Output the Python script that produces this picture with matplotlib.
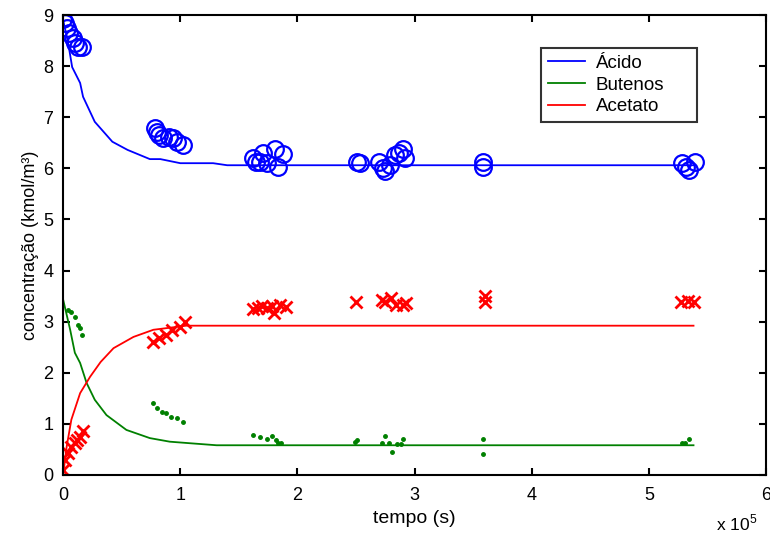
import matplotlib
matplotlib.use("Agg")
import matplotlib.pyplot as plt
import numpy as np

plt.rcParams['font.family'] = ['Liberation Sans', 'DejaVu Sans']
plt.rcParams['mathtext.fontset'] = 'custom'
plt.rcParams['mathtext.rm'] = 'Liberation Sans'

# model curves (tempo in units of 1e5 s)
t_acido = [0, 0.043, 0.077, 0.145, 0.17, 0.27, 0.42, 0.55, 0.74, 0.83, 1.0, 1.28, 1.4, 5.38]
c_acido = [8.9, 8.45, 7.98, 7.67, 7.40, 6.91, 6.52, 6.36, 6.18, 6.18, 6.1, 6.1, 6.06, 6.06]

t_butenos = [0, 0.06, 0.10, 0.145, 0.2, 0.27, 0.37, 0.54, 0.74, 0.91, 1.08, 1.31, 5.38]
c_butenos = [3.43, 2.84, 2.39, 2.19, 1.8, 1.47, 1.17, 0.88, 0.72, 0.65, 0.62, 0.58, 0.58]

t_acetato = [0, 0.03, 0.07, 0.145, 0.23, 0.32, 0.43, 0.6, 0.77, 1.05, 5.38]
c_acetato = [0.0, 0.55, 1.08, 1.6, 1.92, 2.21, 2.48, 2.70, 2.84, 2.92, 2.92]

# experimental points
te_acido = [0.0, 0.02, 0.03, 0.05, 0.08, 0.1, 0.13, 0.16,
            0.78, 0.8, 0.82, 0.85, 0.9, 0.94, 0.97, 1.02,
            1.62, 1.65, 1.68, 1.71, 1.74, 1.81, 1.83, 1.88,
            2.51, 2.53,
            2.7, 2.73, 2.75, 2.79, 2.83, 2.87, 2.9, 2.92,
            3.58, 3.58,
            5.28, 5.32, 5.34, 5.39]
ce_acido = [8.92, 8.84, 8.75, 8.65, 8.55, 8.45, 8.38, 8.38,
            6.79, 6.71, 6.65, 6.59, 6.62, 6.59, 6.52, 6.46,
            6.2, 6.13, 6.13, 6.3, 6.1, 6.38, 6.03, 6.28,
            6.12, 6.1,
            6.13, 6.0, 5.95, 6.07, 6.26, 6.3, 6.38, 6.2,
            6.13, 6.03,
            6.1, 6.03, 5.97, 6.13]

te_acetato = [0.0, 0.02, 0.04, 0.07, 0.1, 0.12, 0.145, 0.17,
              0.77, 0.82, 0.88, 0.93, 1.0, 1.04,
              1.62, 1.66, 1.7, 1.74, 1.78, 1.8, 1.85, 1.9,
              2.5,
              2.72, 2.75, 2.8, 2.84, 2.9, 2.93,
              3.6, 3.6,
              5.27, 5.33, 5.38]
ce_acetato = [0.1, 0.3, 0.43, 0.55, 0.62, 0.68, 0.75, 0.85,
              2.6, 2.68, 2.74, 2.84, 2.9, 2.99,
              3.25, 3.27, 3.3, 3.27, 3.3, 3.17, 3.32, 3.28,
              3.38,
              3.42, 3.38, 3.46, 3.33, 3.33, 3.36,
              3.5, 3.38,
              3.38, 3.4, 3.38]

te_butenos = [0.04, 0.07, 0.1, 0.13, 0.145, 0.16,
              0.77, 0.8, 0.84, 0.88, 0.92, 0.97, 1.02,
              1.62, 1.68, 1.74, 1.78, 1.82, 1.83, 1.86,
              2.49, 2.51,
              2.72, 2.75, 2.78, 2.81, 2.85, 2.88, 2.9,
              3.58, 3.58,
              5.28, 5.31, 5.34]
ce_butenos = [3.23, 3.19, 3.09, 2.93, 2.87, 2.74,
              1.41, 1.31, 1.23, 1.21, 1.14, 1.12, 1.04,
              0.78, 0.74, 0.70, 0.76, 0.68, 0.63, 0.63,
              0.65, 0.68,
              0.63, 0.76, 0.63, 0.45, 0.61, 0.61, 0.70,
              0.70, 0.41,
              0.63, 0.62, 0.70]

fig = plt.figure(figsize=(7.7, 5.36), dpi=100)
ax = fig.add_axes([0.082, 0.114, 0.913, 0.858])

ax.plot(np.array(t_acido) * 1e5, c_acido, color='#0000ff', lw=1.3, label='Ácido')
ax.plot(np.array(t_butenos) * 1e5, c_butenos, color='#008000', lw=1.3, label='Butenos')
ax.plot(np.array(t_acetato) * 1e5, c_acetato, color='#ff0000', lw=1.3, label='Acetato')

ax.plot(np.array(te_acido) * 1e5, ce_acido, 'o', mfc='none', mec='#0000ff', ms=12, mew=1.6)
ax.plot(np.array(te_acetato) * 1e5, ce_acetato, 'x', color='#ff0000', ms=8, mew=2)
ax.plot(np.array(te_butenos) * 1e5, ce_butenos, '.', color='#008000', ms=5)

ax.set_xlim(0, 6e5)
ax.set_ylim(0, 9)
ax.set_xticks(np.arange(0, 7) * 1e5)
ax.set_xticklabels([str(i) for i in range(7)])
ax.set_yticks(range(10))
ax.tick_params(direction='in', top=True, right=True, length=5, width=1.5, labelsize=13)
ax.tick_params(axis='x', pad=9)
ax.tick_params(axis='y', pad=7)
for s in ax.spines.values():
    s.set_linewidth(1.5)

ax.set_xlabel('tempo (s)', fontsize=14, labelpad=4)
ax.set_ylabel('concentração (kmol/m³)', fontsize=13, labelpad=3)
ax.text(0.988, -0.12, r'x 10$^5$', transform=ax.transAxes, ha='right', va='baseline', fontsize=12.5)

# legend box stretched to the width seen in the original
leg = ax.legend(loc='upper left', bbox_to_anchor=(0.68, 0.5, 0.222, 0.428), mode='expand',
                fontsize=13.5, frameon=True, fancybox=False, edgecolor='black',
                handlelength=2.0, borderpad=0.35, labelspacing=0.25, borderaxespad=0,
                handletextpad=0.55)
leg.get_frame().set_linewidth(1.5)

fig.savefig('out.png', dpi=100)
